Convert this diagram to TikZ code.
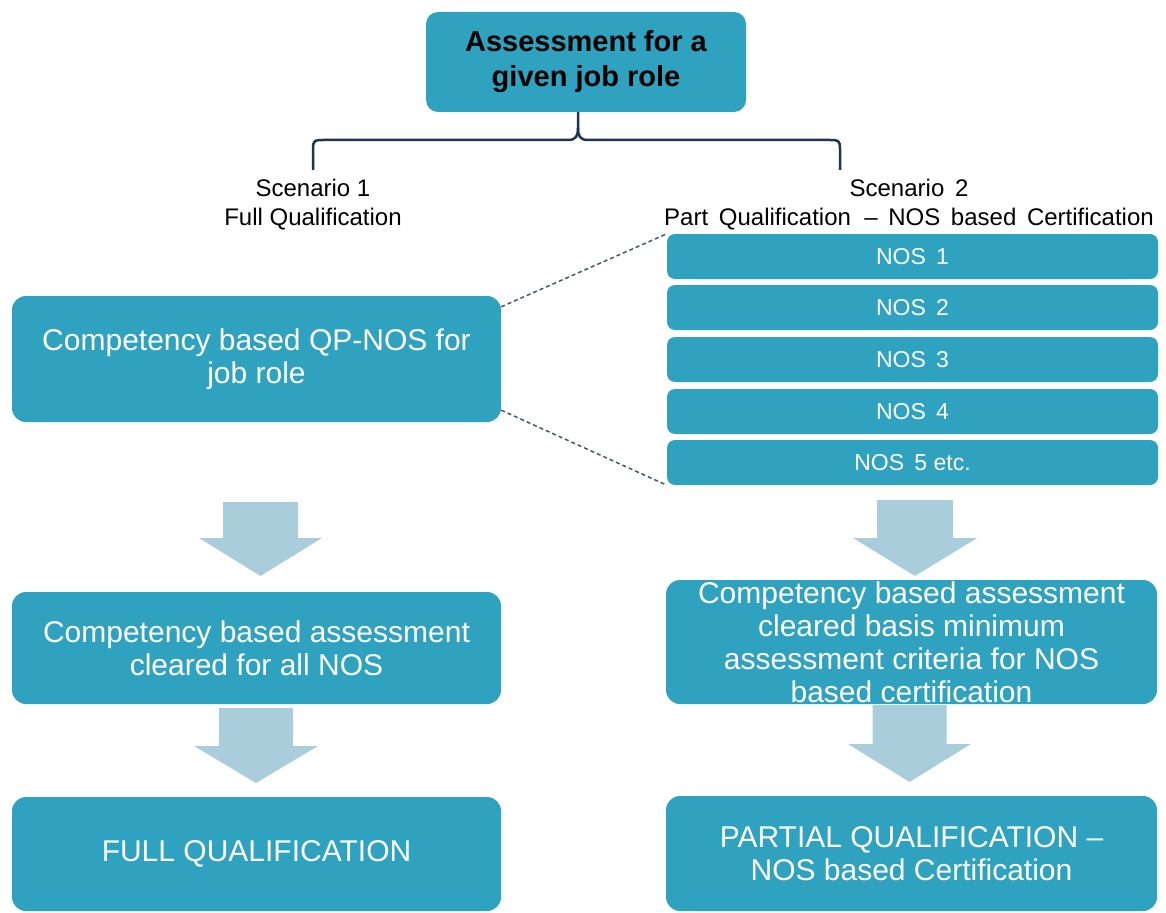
\documentclass[tikz,border=0pt]{standalone}
\usepackage{fontspec}
\setmainfont{Liberation Sans}
\definecolor{boxblue}{RGB}{46,162,190}
\definecolor{arrowblue}{RGB}{170,205,220}
\definecolor{bracenavy}{RGB}{31,52,80}
\definecolor{dashgray}{RGB}{70,85,105}
\newcommand{\blockarrow}[6]{% cx, top, base, tip, half shaft, half head
  \fill[arrowblue] ({#1-#5},#2) -- ({#1+#5},#2) -- ({#1+#5},#3) -- ({#1+#6},#3)
    -- (#1,#4) -- ({#1-#6},#3) -- ({#1-#5},#3) -- cycle;}
\begin{document}
\begin{tikzpicture}[x=1pt,y=-1pt,
  box/.style={fill=boxblue, rounded corners=14pt, text=white, align=center,
    inner sep=0pt, font=\fontsize{30}{33}\selectfont},
  nosbox/.style={fill=boxblue, rounded corners=8pt, text=white, inner sep=0pt,
    minimum width=491pt, minimum height=45pt, font=\fontsize{23}{26}\selectfont},
  lbl/.style={align=center, inner sep=0pt, font=\fontsize{24}{29}\selectfont},
  bracestyle/.style={draw=bracenavy, line width=2.5pt},
  dashstyle/.style={draw=dashgray, line width=1.5pt, dash pattern=on 4pt off 3pt}]
\useasboundingbox (0,0) rectangle (1166,912);

% top box
\node[box, rounded corners=12pt, text=black, minimum width=320pt, minimum height=100pt,
  font=\bfseries\fontsize{29}{35}\selectfont] (top) at (586,62) {Assessment for a\\given job role};

% brace
\coordinate (bl) at (313,170);
\coordinate (br) at (840,170);
\draw[bracestyle] (bl) -- (313,149) .. controls (313,140) and (315,140) .. (323,140)
  -- (568,140) .. controls (576,140) and (578,136) .. (578,128) -- (top.south -| 578,0);
\draw[bracestyle] (br) -- (840,149) .. controls (840,140) and (838,140) .. (830,140)
  -- (588,140) .. controls (580,140) and (578,136) .. (578,128);

% scenario labels
\node[lbl] (s1) at (313,205) {Scenario 1\\Full Qualification};
\node[lbl] (s2) at (909,205) {Scenario\, 2\\Part\, Qualification \ --\, NOS\, based\, Certification};

% left column
\node[box, minimum width=489pt, minimum height=126pt] (l1) at (256.5,359)
  {Competency based QP-NOS for\\job role};
\node[box, minimum width=489pt, minimum height=112pt] (l2) at (256.5,648)
  {Competency based assessment\\cleared for all NOS};
\node[box, minimum width=489pt, minimum height=114pt] (l3) at (256.5,854)
  {FULL QUALIFICATION};

% NOS stack
\node[nosbox] (n1) at (912.5,256.5) {NOS\, 1};
\node[nosbox] (n2) at (912.5,307.5) {NOS\, 2};
\node[nosbox] (n3) at (912.5,359.5) {NOS\, 3};
\node[nosbox] (n4) at (912.5,411.5) {NOS\, 4};
\node[nosbox] (n5) at (912.5,462.5) {NOS\, 5 etc.};

% right column
\node[box, minimum width=491pt, minimum height=124pt] (r2) at (911.5,642)
  {Competency based assessment\\cleared basis minimum\\assessment criteria for NOS\\based certification};
\node[box, minimum width=491pt, minimum height=115pt] (r3) at (911.5,853.5)
  {PARTIAL QUALIFICATION --\\NOS based Certification};

% dashed zoom lines
\draw[dashstyle] ([yshift=-11pt]l1.north east) -- (n1.north west);
\draw[dashstyle] ([yshift=12pt]l1.south east) -- (n5.south west);

% block arrows
\blockarrow{260.5}{502}{538}{576}{37.5}{61.5}
\blockarrow{256}{708}{746}{783}{37}{62}
\blockarrow{915}{500}{538}{576}{38}{62}
\blockarrow{909.5}{705}{744}{782}{37}{61.5}
\end{tikzpicture}
\end{document}
